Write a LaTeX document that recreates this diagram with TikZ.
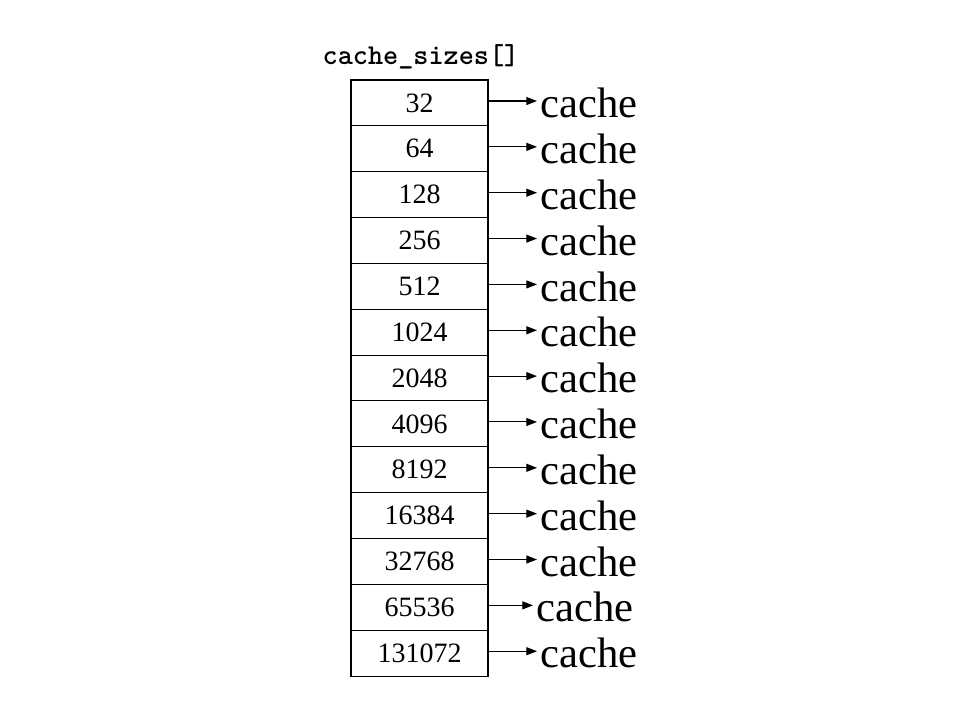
\documentclass[tikz,border=0pt]{standalone}
\usepackage{fontspec}
\setmainfont{Liberation Serif}
\usetikzlibrary{arrows.meta}
\begin{document}
\begin{tikzpicture}[x=0.75pt,y=-0.75pt,
  cell/.style={draw,line width=0.8pt,minimum width=137*0.75pt,minimum height=45.85*0.75pt,
    inner sep=0pt,outer sep=0pt,anchor=north west,font=\fontsize{21}{21}\selectfont},
  label/.style={anchor=west,inner sep=0pt,font=\fontsize{32}{32}\selectfont},
  ptr/.style={-{Triangle[length=8pt,width=6pt]},line width=0.8pt}]
\useasboundingbox (0,0) rectangle (959,719);
\fill[white] (0,0) rectangle (959,719);
\node[anchor=center,inner sep=0pt,font=\ttfamily\bfseries\fontsize{21.6}{21.6}\selectfont] (title) at (421,57) {cache\_sizes[]};
\foreach \v [count=\i] in {32,64,128,256,512,1024,2048,4096,8192,16384,32768,65536,131072} {
  \node[cell] (c\i) at (351,{80+(\i-1)*45.85}) {\v};
}
\foreach \i in {1,...,11,13} {
  \node[label] (k\i) at (540,{103+(\i-1)*45.85}) {cache};
  \coordinate (t\i) at (537,{101+(\i-1)*45.85});
  \draw[ptr] (c\i.east|-t\i) -- (t\i);
}
\node[label] (k12) at (536,{103+11*45.85}) {cache};
\coordinate (t12) at (533,{101+11*45.85});
\draw[ptr] (c12.east|-t12) -- (t12);
\end{tikzpicture}
\end{document}
